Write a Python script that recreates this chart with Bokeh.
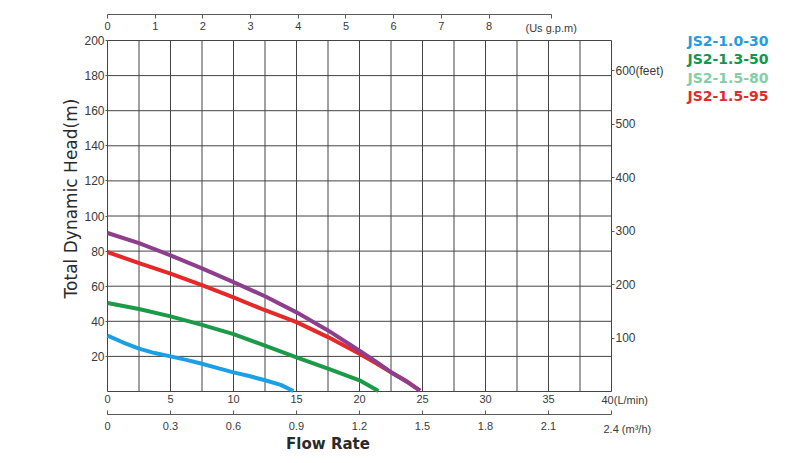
import math
from bokeh.plotting import figure
from bokeh.models import Range1d, LinearAxis, FixedTicker, Label
from bokeh.embed import file_html
from bokeh.resources import INLINE

# ---------------- data ----------------
series_names = ["JS2-1.0-30", "JS2-1.3-50", "JS2-1.5-80", "JS2-1.5-95"]

flow_1_0_30 = [0, 1.25, 2.5, 3.75, 5, 6.25, 7.5, 8.75, 10, 11.25, 12.5, 13.75, 14.75]
head_1_0_30 = [31.8, 27.9, 24.4, 21.9, 20.0, 18.0, 15.8, 13.3, 10.9, 8.8, 6.4, 3.8, 0.3]

flow_1_3_50 = [0, 2.5, 5, 7.5, 10, 12.5, 15, 17.5, 20, 21.5]
head_1_3_50 = [50.4, 47.0, 42.8, 38.0, 32.7, 26.2, 19.5, 13.0, 6.4, 0.3]

flow_1_5_80 = [0, 2.5, 5, 7.5, 10, 12.5, 15, 17.5, 20, 21.25, 22.5, 23.75, 24.8]
head_1_5_80 = [90.3, 84.5, 77.6, 70.2, 62.3, 54.3, 45.1, 34.8, 23.2, 17.3, 11.0, 5.6, 0.5]

flow_1_5_95 = [0, 2.5, 5, 7.5, 10, 12.5, 15, 17.5, 20, 21.25, 22.5, 23.75, 24.8]
head_1_5_95 = [79.4, 73.2, 67.2, 60.6, 53.6, 46.3, 39.5, 31.0, 21.5, 16.3, 11.0, 5.8, 0.5]

lpm_ticks = [0, 5, 10, 15, 20, 25, 30, 35, 40]
lpm_grid = [0, 2.5, 5, 7.5, 10, 12.5, 15, 17.5, 20, 22.5, 25, 27.5, 30, 32.5, 35, 37.5, 40]
m3h_ticks = [0, 0.3, 0.6, 0.9, 1.2, 1.5, 1.8, 2.1, 2.4]
m3h_labels = ["0", "0.3", "0.6", "0.9", "1.2", "1.5", "1.8", "2.1", "2.4"]
gpm_ticks = [0, 1, 2, 3, 4, 5, 6, 7, 8]
head_m_ticks = [20, 40, 60, 80, 100, 120, 140, 160, 180, 200]
head_m_grid = [0, 20, 40, 60, 80, 100, 120, 140, 160, 180, 200]
head_ft_ticks = [100, 200, 300, 400, 500, 600]

x_title = "Flow Rate"
y_title = "Total Dynamic Head(m)"
lpm_unit_label = "40(L/min)"
m3h_unit_label = "2.4 (m\u00b3/h)"
gpm_unit_label = "(Us g.p.m)"
ft_unit_label = "600(feet)"

LPM_MAX = 40
HEAD_MAX = 200
LPM_PER_GPM = 3.78541
FT_PER_M = 3.28084
LPM_PER_M3H = 1000 / 60.0

# ---------------- layout / style ----------------
W, H = 800, 463
X0, X1 = 107, 611          # pixel columns of 0 and 40 L/min
Y0, Y1 = 391, 40           # pixel rows of 0 and 200 m
px_x = (X1 - X0) / LPM_MAX
px_y = (Y0 - Y1) / HEAD_MAX


def qx(px):  # pixel column -> L/min
    return (px - X0) / px_x


def hy(py):  # pixel row -> metres
    return (Y0 - py) / px_y


line_colors = ["#1ca0e3", "#1b9a47", "#8d3f8d", "#e52828"]
legend_colors = ["#1e9ee0", "#12964a", "#82cfa6", "#e12a2d"]
grid_color = "#444444"
axis_color = "#5a5a5a"
text_color = "#3a3a3a"
tick_font = "Liberation Sans"

x_start, x_end = qx(0), qx(W)
y_start, y_end = hy(H), hy(0)

p = figure(width=W, height=H, min_border=0, x_axis_type=None, y_axis_type=None,
           x_range=Range1d(x_start, x_end), y_range=Range1d(y_start, y_end),
           toolbar_location=None, output_backend="svg")
p.outline_line_color = None
p.background_fill_color = "white"
p.border_fill_color = "white"
p.extra_x_ranges = {
    "gpm": Range1d(x_start / LPM_PER_GPM, x_end / LPM_PER_GPM),
    "m3h": Range1d(x_start / LPM_PER_M3H, x_end / LPM_PER_M3H),
}
p.extra_y_ranges = {"feet": Range1d(y_start * FT_PER_M, y_end * FT_PER_M)}

# grid box
p.segment(x0=lpm_grid, y0=[0] * len(lpm_grid), x1=lpm_grid, y1=[HEAD_MAX] * len(lpm_grid),
          line_color=grid_color, line_width=1)
p.segment(x0=[0] * len(head_m_grid), y0=head_m_grid, x1=[LPM_MAX] * len(head_m_grid),
          y1=head_m_grid, line_color=grid_color, line_width=1)


def style(ax, size="11px", tick_in=0, tick_out=0, standoff=3, line=None):
    ax.axis_line_color = line
    ax.major_tick_line_color = axis_color
    ax.major_tick_in = tick_in
    ax.major_tick_out = tick_out
    ax.minor_tick_in = 0
    ax.minor_tick_out = 0
    ax.major_label_standoff = standoff
    ax.major_label_text_font = tick_font
    ax.major_label_text_font_size = size
    ax.major_label_text_color = text_color
    return ax


# top US g.p.m axis
gpm_end = 9.3
gpm_axis = LinearAxis(x_range_name="gpm", fixed_location=hy(14),
                      ticker=FixedTicker(ticks=gpm_ticks + [gpm_end]),
                      major_label_overrides={gpm_end: ""}, bounds=(0, gpm_end))
style(gpm_axis, tick_out=4, standoff=3, line=axis_color)
p.add_layout(gpm_axis, "below")

# L/min axis
lpm_axis = LinearAxis(fixed_location=0, ticker=FixedTicker(ticks=lpm_ticks),
                      major_label_overrides={40: ""}, bounds=(0, LPM_MAX))
style(lpm_axis, standoff=3)
p.add_layout(lpm_axis, "below")

# m3/h axis
ov = {t: l for t, l in zip(m3h_ticks, m3h_labels)}
ov[2.4] = ""
m3h_axis = LinearAxis(x_range_name="m3h", fixed_location=hy(414),
                      ticker=FixedTicker(ticks=m3h_ticks), major_label_overrides=ov,
                      bounds=(0, LPM_MAX / LPM_PER_M3H))
style(m3h_axis, tick_in=4, standoff=7, line=axis_color)
p.add_layout(m3h_axis, "below")

# left metres axis
left_axis = LinearAxis(fixed_location=0, ticker=FixedTicker(ticks=head_m_ticks),
                       bounds=(0, HEAD_MAX))
style(left_axis, size="12px", tick_out=2, standoff=1)
p.add_layout(left_axis, "left")

# right feet axis
right_axis = LinearAxis(y_range_name="feet", fixed_location=LPM_MAX,
                        ticker=FixedTicker(ticks=head_ft_ticks),
                        major_label_overrides={600: ft_unit_label},
                        bounds=(0, HEAD_MAX * FT_PER_M))
style(right_axis, size="12px", tick_out=3, standoff=1)
p.add_layout(right_axis, "right")

# curves
flows = [flow_1_0_30, flow_1_3_50, flow_1_5_95, flow_1_5_80]
heads = [head_1_0_30, head_1_3_50, head_1_5_95, head_1_5_80]
cols = [line_colors[0], line_colors[1], line_colors[3], line_colors[2]]
for f, h, c in zip(flows, heads, cols):
    p.line(f, h, line_color=c, line_width=4, line_cap="butt", line_join="round")

# texts
p.add_layout(Label(x=qx(525), y=hy(27), text=gpm_unit_label, text_align="left",
                   text_baseline="middle", text_font=tick_font, text_font_size="11px",
                   text_color=text_color))
p.add_layout(Label(x=qx(601), y=hy(399), text=lpm_unit_label, text_align="left",
                   text_baseline="middle", text_font=tick_font, text_font_size="11px",
                   text_color=text_color))
p.add_layout(Label(x=qx(603), y=hy(428), text=m3h_unit_label, text_align="left",
                   text_baseline="middle", text_font=tick_font, text_font_size="11px",
                   text_color=text_color))
p.add_layout(Label(x=qx(327.5), y=hy(443), text=x_title, text_align="center",
                   text_baseline="middle", text_font="DejaVu Sans", text_font_style="bold",
                   text_font_size="15px", text_color="#2a2a2a"))
p.add_layout(Label(x=qx(70), y=hy(198), text=y_title, angle=math.pi / 2,
                   text_align="center", text_baseline="middle", text_font="DejaVu Sans",
                   text_font_size="17px", text_color="#2a2a2a"))

legend_rows = [40, 58.5, 77, 95.5]
for name, col, row in zip(series_names, legend_colors, legend_rows):
    p.add_layout(Label(x=qx(687), y=hy(row), text=name, text_align="left",
                       text_baseline="middle", text_font="DejaVu Sans",
                       text_font_style="bold", text_font_size="14px", text_color=col))

open("out.html", "w").write(file_html(p, INLINE))
